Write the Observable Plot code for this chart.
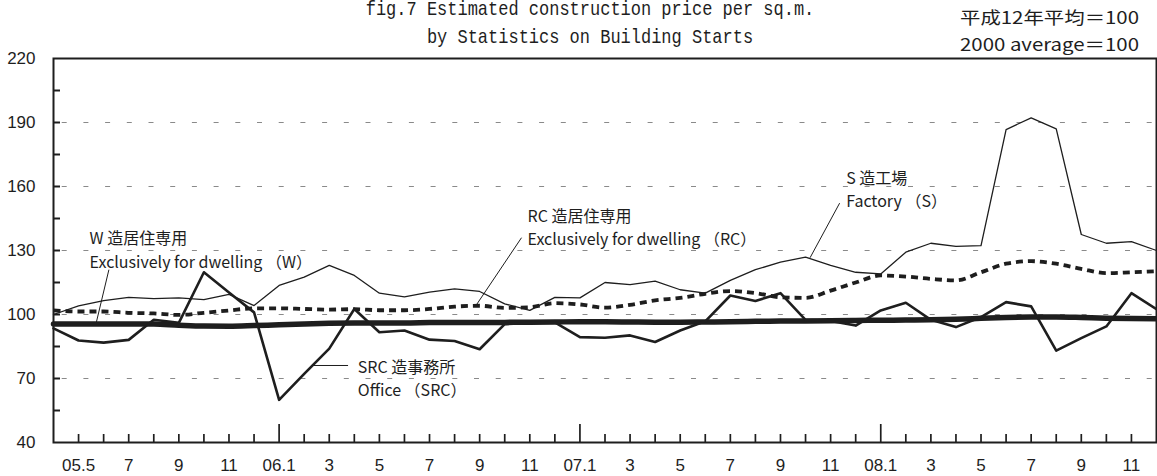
<!DOCTYPE html>
<html><head><meta charset="utf-8">
<script src="https://cdn.jsdelivr.net/npm/d3@7"></script>
<script src="https://cdn.jsdelivr.net/npm/@observablehq/plot@0.6"></script>
<style>
body{margin:0;background:#fff;}
#chart{width:1157px;height:476px;overflow:hidden;}
</style></head><body>
<div id="chart"></div>
<script>
// Months 2005.4 .. 2008.12 (index 0..44)
const monthIdx = d3.range(45);
const tickIdx  = [1,3,5,7,9,11,13,15,17,19,21,23,25,27,29,31,33,35,37,39,41,43];
const tickText = ["05.5","7","9","11","06.1","3","5","7","9","11","07.1","3","5","7","9","11","08.1","3","5","7","9","11"];
const minorTickIdx = [1,2,3,4,5,6,7,8,10,11,12,13,14,15,16,17,18,19,20,22,23,24,25,26,27,28,29,30,31,32,34,35,36,37,38,39,40,41,42,43];
const majorTickIdx = [9,21,33];
const yLabelVals = [40,70,100,130,160,190,220];
const gridVals = [70,100,130,160,190];
const yTickVals = [55,70,85,100,115,130,145,160,175,190,205];

// Series (2000 average = 100)
const sFactory = [100,104,106.5,108,107.4,107.8,107,109.4,104.2,113.6,117.5,123,118.3,110,108.3,110.5,112,110.8,105,101.9,108,107.8,115,114,115.6,111.6,110,116,121,124.5,126.9,123,119.8,119,129.2,133.4,131.9,132.3,186.7,192.2,187,137.5,133.4,134.2,130];
const rcDwelling = [101.9,101.4,101.4,100.8,100.5,99.8,100.8,101.9,102.9,102.9,102.6,102.3,102.5,102,102,102.6,103.7,104.1,103.1,103.4,105.3,104.7,103.2,104.5,106.6,107.8,109.7,111,110,108.1,107.8,111.2,115,118.3,117.8,116.7,116,119.8,123.8,125,123.8,121.4,119.4,119.8,120.3];
const wDwelling = [95.6,95.6,95.6,95.6,95.5,95.0,94.6,94.5,94.8,95.2,95.6,95.9,96.0,96.0,96.0,96.2,96.3,96.3,96.3,96.4,96.5,96.6,96.6,96.5,96.4,96.4,96.5,96.6,96.8,97,97,97.1,97.2,97.3,97.4,97.5,97.8,98.2,98.6,98.8,98.8,98.6,98.3,98.1,98];
const srcOffice = [93.5,87.8,86.8,88.1,97.5,96.1,119.8,110.3,101,60,72.2,84,102.6,91.7,92.5,88.2,87.6,83.7,95.5,96,96.3,89.4,89.1,90.2,87.1,92.5,96.8,108.9,106.3,110,97.5,97,94.8,101.9,105.5,97.5,94.1,98.8,105.8,103.8,83.1,88.9,94.4,110,102.5];

// Annotations (positions in data units)
const annText = ["W 造居住専用\nExclusively for dwelling （W）","RC 造居住専用\nExclusively for dwelling （RC）","S 造工場\nFactory （S）","SRC 造事務所\nOffice （SRC）"];
const annX = [1.44, 18.91, 31.62, 12.14];
const annY = [130.9, 141.6, 159.2, 70.5];
const leadX1 = [2.21, 18.67, 31.36, 11.75];
const leadY1 = [121.0, 136.0, 152.2, 76.1];
const leadX2 = [1.70, 16.88, 30.18, 10.35];
const leadY2 = [95.9, 104.7, 126.6, 76.1];

const rows = monthIdx.map(i => ({i, s: sFactory[i], rc: rcDwelling[i], w: wDwelling[i], src: srcOffice[i]}));
const ann = annText.map((t, k) => ({t, x: annX[k], y: annY[k]}));
const leaders = annText.map((t, k) => ({x1: leadX1[k], y1: leadY1[k], x2: leadX2[k], y2: leadY2[k]}));
const labelMap = new Map(tickIdx.map((d, k) => [d, tickText[k]]));

const W = 1157, H = 476, mT = 58, mB = 34, mL = 53, mR = 1;
const plotW = W - mL - mR, plotH = H - mT - mB;
const ink = "#1e1e1e";

const chart = Plot.plot({
  width: W, height: H, marginTop: mT, marginBottom: mB, marginLeft: mL, marginRight: mR,
  x: {domain: [0, 44]},
  y: {domain: [40, 220]},
  style: {fontFamily: "'Liberation Sans', Arial, sans-serif", fontSize: "17px", color: ink, background: "#fff", overflow: "hidden"},
  marks: [
    Plot.ruleY(gridVals, {stroke: "#8a8a8a", strokeWidth: 1, strokeDasharray: "5,16.7", strokeDashoffset: -8.7}),
    Plot.tickY(yTickVals, {y: d => d, stroke: ink, strokeWidth: 2, insetRight: plotW - 7}),
    Plot.tickX(minorTickIdx, {x: d => d, stroke: ink, strokeWidth: 1.7, insetTop: plotH - 8}),
    Plot.tickX(majorTickIdx, {x: d => d, stroke: ink, strokeWidth: 1.7, insetTop: plotH - 18}),
    Plot.axisY({ticks: yLabelVals, tickSize: 0, tickPadding: 18, label: null}),
    Plot.axisX({ticks: tickIdx, tickFormat: d => labelMap.get(d), tickSize: 0, tickPadding: 16, label: null}),
    Plot.line(rows, {x: "i", y: "s", stroke: ink, strokeWidth: 1.3}),
    Plot.line(rows, {x: "i", y: "rc", stroke: ink, strokeWidth: 3.8, strokeDasharray: "7,5", strokeLinecap: "butt", curve: "monotone-x"}),
    Plot.line(rows, {x: "i", y: "w", stroke: ink, strokeWidth: 5.5, curve: "monotone-x"}),
    Plot.line(rows, {x: "i", y: "src", stroke: ink, strokeWidth: 2.6}),
    Plot.link(leaders, {x1: "x1", y1: "y1", x2: "x2", y2: "y2", stroke: ink, strokeWidth: 1}),
    Plot.text(ann, {x: "x", y: "y", text: "t", textAnchor: "start", lineAnchor: "middle", lineHeight: 1.45, fontSize: 16, fontFamily: "'Noto Sans CJK JP', sans-serif", fill: ink}),
    Plot.frame({stroke: ink, strokeWidth: 2})
  ]
});
document.getElementById("chart").appendChild(chart);

// Titles
const svg = d3.select(chart);
const titleLines = ["fig.7 Estimated construction price per sq.m.", "by Statistics on Building Starts"];
const titleBase = [15, 43];
titleLines.forEach((t, k) => {
  svg.append("text").attr("transform", `translate(590,${titleBase[k]}) scale(0.85,1)`)
    .attr("text-anchor", "middle").attr("font-family", "'Liberation Mono', monospace")
    .attr("font-size", 20).attr("fill", ink).text(t);
});
const noteLines = ["平成12年平均＝100", "2000 average＝100"];
const noteBase = [24, 51];
noteLines.forEach((t, k) => {
  svg.append("text").attr("x", 1139).attr("y", noteBase[k])
    .attr("text-anchor", "end").attr("font-family", "'Noto Sans CJK JP', sans-serif")
    .attr("font-size", 17.5).attr("textLength", 179).attr("lengthAdjust", "spacingAndGlyphs")
    .attr("fill", ink).text(t);
});
</script>
</body></html>
